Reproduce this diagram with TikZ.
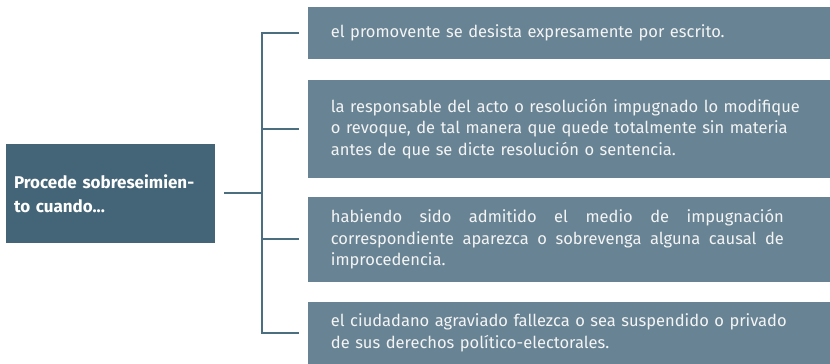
\documentclass[tikz,border=0pt]{standalone}
\usepackage{fontspec}
\setmainfont{Fira Sans}
\definecolor{leftc}{HTML}{436577}
\definecolor{boxc}{HTML}{688494}
\definecolor{linec}{HTML}{4B6E80}
\definecolor{txtc}{HTML}{F4F4F4}
\newcommand{\jline}[1]{\makebox[453pt][l]{#1}}
\begin{document}
\begin{tikzpicture}[x=1pt,y=1pt,
  rbox/.style={fill=boxc, text=txtc, anchor=west, minimum width=522pt,
    inner xsep=22.7pt, inner ysep=0pt, text width=476.6pt, align=left,
    font=\fontsize{16.5}{21.6}\selectfont},
  lbox/.style={fill=leftc, text=white, minimum width=209pt, minimum height=98.7pt,
    inner xsep=8pt, inner ysep=0pt, text width=193pt, align=left,
    font=\fontsize{17}{24}\selectfont\bfseries},
  conn/.style={draw=linec, line width=2.2pt}]
\useasboundingbox (0,0) rectangle (830,364);
\node[lbox] (a) at (110.5,170.65) {Procede sobreseimien-\\to cuando...};
\node[rbox, minimum height=52.5pt] (b1) at (308,330.75)
  {el promovente se desista expresamente por escrito.};
\node[rbox, minimum height=97.7pt] (b2) at (308,235.15)
  {la responsable del acto o resolución impugnado lo modifique\\
   o revoque, de tal manera que quede totalmente sin materia\\
   antes de que se dicte resolución o sentencia.};
\node[rbox, minimum height=85pt] (b3) at (308,124.8)
  {\jline{habiendo\hfill sido\hfill admitido\hfill el\hfill medio\hfill de\hfill impugnación}\\
   \jline{correspondiente\hfill aparezca\hfill o\hfill sobrevenga\hfill alguna\hfill causal\hfill de}\\
   improcedencia.};
\node[rbox, minimum height=62pt] (b4) at (308,31)
  {el ciudadano agraviado fallezca o sea suspendido o privado\\
   de sus derechos político-electorales.};
\coordinate (spine) at (262.3,0);
\draw[conn] ([xshift=-9pt]b1.west) -- (b1.west -| spine) -- (b4.west -| spine) -- ([xshift=-9pt]b4.west);
\draw[conn] ([xshift=-9pt]b2.west) -- (b2.west -| spine);
\draw[conn] ([xshift=-9pt]b3.west) -- (b3.west -| spine);
\draw[conn] ([xshift=9pt]a.east) -- (a.east -| spine);
\end{tikzpicture}
\end{document}
